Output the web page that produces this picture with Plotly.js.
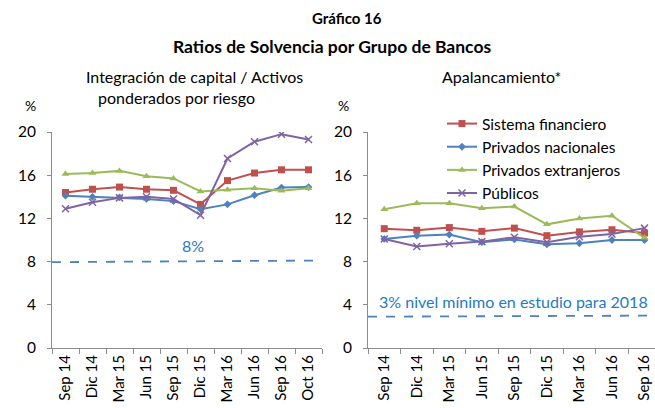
<!DOCTYPE html>
<html>
<head>
<meta charset="utf-8">
<script src="https://cdn.plot.ly/plotly-3.0.1.min.js"></script>
<style>html,body{margin:0;padding:0;background:#fff;}#chart{width:655px;height:408px;}</style>
</head>
<body>
<div id="chart"></div>
<script>
// Categories
const catsLeft = ["Sep 14","Dic 14","Mar 15","Jun 15","Sep 15","Dic 15","Mar 16","Jun 16","Sep 16","Oct 16"];
const catsRight = ["Sep 14","Dic 14","Mar 15","Jun 15","Sep 15","Dic 15","Mar 16","Jun 16","Sep 16"];

// Left panel: Integración de capital / Activos ponderados por riesgo (%)
const capSistema    = [14.4, 14.7, 14.9, 14.7, 14.6, 13.3, 15.5, 16.2, 16.5, 16.5];
const capNacionales = [14.1, 14.0, 13.95, 13.8, 13.6, 12.85, 13.3, 14.15, 14.85, 14.9];
const capExtranj    = [16.1, 16.2, 16.4, 15.9, 15.7, 14.5, 14.65, 14.8, 14.55, 14.8];
const capPublicos   = [12.9, 13.5, 13.9, 14.0, 13.8, 12.3, 17.55, 19.1, 19.8, 19.3];

// Right panel: Apalancamiento (%)
const apSistema    = [11.05, 10.9, 11.15, 10.8, 11.1, 10.4, 10.75, 10.95, 10.65];
const apNacionales = [10.1, 10.4, 10.5, 9.8, 10.05, 9.6, 9.7, 10.0, 10.0];
const apExtranj    = [12.85, 13.4, 13.4, 12.95, 13.1, 11.45, 12.0, 12.25, 10.2];
const apPublicos   = [10.1, 9.4, 9.65, 9.85, 10.25, 9.8, 10.3, 10.55, 11.1];

// Reference levels (start, end)
const refCapital = [7.95, 8.1];
const refLeverage = [2.9, 3.0];

const yTicks = [0, 4, 8, 12, 16, 20];

const FONT = "Lato, 'Open Sans', sans-serif";
const cRed = "#C0504D", cBlue = "#4F81BD", cGreen = "#9BBB59", cPurple = "#8064A2";
const cText = "#1F7BC4";

function series(x, y, name, color, symbol, size, xa, ya, showleg) {
  const mk = {symbol: symbol, size: size, color: color};
  if (symbol.indexOf("x-thin") === 0) mk.line = {color: color, width: 1.5};
  return {x: x, y: y, name: name, type: "scatter", mode: "lines+markers",
    line: {color: color, width: 2}, marker: mk, xaxis: xa, yaxis: ya,
    showlegend: showleg, legendgroup: name};
}

const data = [
  series(catsLeft, capSistema, "Sistema financiero", cRed, "square", 7, "x", "y", false),
  series(catsLeft, capNacionales, "Privados nacionales", cBlue, "diamond", 6, "x", "y", false),
  series(catsLeft, capExtranj, "Privados extranjeros", cGreen, "triangle-up", 7, "x", "y", false),
  series(catsLeft, capPublicos, "Públicos", cPurple, "x-thin", 7, "x", "y", false),
  series(catsRight, apSistema, "Sistema financiero", cRed, "square", 7, "x2", "y2", true),
  series(catsRight, apNacionales, "Privados nacionales", cBlue, "diamond", 6, "x2", "y2", true),
  series(catsRight, apExtranj, "Privados extranjeros", cGreen, "triangle-up", 7, "x2", "y2", true),
  series(catsRight, apPublicos, "Públicos", cPurple, "x-thin", 7, "x2", "y2", true)
];

const W = 655, H = 408, T = 132, B = 60;
const ph = H - T - B;
const py = p => (H - B - p) / ph;
const px = p => p / W;

function xax(domain, range, anchor) {
  return {domain: domain, range: range, anchor: anchor, type: "category",
    showline: true, linecolor: "#8c8c8c", linewidth: 1, showgrid: false, zeroline: false,
    ticks: "outside", tickson: "boundaries", ticklen: 5, tickcolor: "#8c8c8c",
    tickangle: -90, tickfont: {family: FONT, size: 15, color: "#000"}, fixedrange: true};
}
function yax(domain, anchor) {
  return {domain: domain, range: [0, 20], anchor: anchor, tickvals: yTicks,
    showline: true, linecolor: "#8c8c8c", linewidth: 1, showgrid: false, zeroline: false,
    ticks: "outside", ticklen: 4, tickcolor: "#8c8c8c", ticklabelstandoff: 8,
    tickfont: {family: FONT, size: 15.5, color: "#000"}, fixedrange: true};
}

const layout = {
  width: W, height: H,
  margin: {l: 0, r: 0, t: T, b: B, pad: 0},
  paper_bgcolor: "#fff", plot_bgcolor: "#fff",
  font: {family: FONT, color: "#000"},
  xaxis: xax([52 / W, 322 / W], [-0.5, catsLeft.length - 0.5], "y"),
  yaxis: yax([0, 1], "x"),
  xaxis2: xax([368 / W, 1], [-0.5, catsRight.length - 0.5 - 5.75 / 32.5], "y2"),
  yaxis2: yax([0, 1], "x2"),
  showlegend: true,
  legend: {x: px(442), y: py(107), xanchor: "left", yanchor: "top",
    font: {family: FONT, size: 15.5, color: "#000"}, bgcolor: "rgba(0,0,0,0)",
    tracegroupgap: 0, itemwidth: 30},
  shapes: [
    {type: "line", xref: "x domain", yref: "y", x0: 0, x1: 1, y0: refCapital[0], y1: refCapital[1],
      line: {color: cBlue, width: 1.8, dash: "dash"}},
    {type: "line", xref: "x2 domain", yref: "y2", x0: 0, x1: 1, y0: refLeverage[0], y1: refLeverage[1],
      line: {color: cBlue, width: 1.8, dash: "dash"}}
  ],
  annotations: [
    {text: "<b>Gráfico 16</b>", x: px(347), y: py(18), xref: "paper", yref: "paper", showarrow: false,
      font: {family: FONT, size: 15}, xanchor: "center", yanchor: "middle"},
    {text: "<b>Ratios de Solvencia por Grupo de Bancos</b>", x: px(332), y: py(47), xref: "paper", yref: "paper", showarrow: false,
      font: {family: FONT, size: 17.5}, xanchor: "center", yanchor: "middle"},
    {text: "Integración de capital / Activos", x: px(194), y: py(76), xref: "paper", yref: "paper", showarrow: false,
      font: {family: FONT, size: 16}, xanchor: "center", yanchor: "middle"},
    {text: "ponderados por riesgo", x: px(177), y: py(97), xref: "paper", yref: "paper", showarrow: false,
      font: {family: FONT, size: 16}, xanchor: "center", yanchor: "middle"},
    {text: "Apalancamiento*", x: px(501), y: py(76), xref: "paper", yref: "paper", showarrow: false,
      font: {family: FONT, size: 16}, xanchor: "center", yanchor: "middle"},
    {text: "%", x: px(30), y: py(105), xref: "paper", yref: "paper", showarrow: false,
      font: {family: FONT, size: 14}, xanchor: "center", yanchor: "middle"},
    {text: "%", x: px(343), y: py(105), xref: "paper", yref: "paper", showarrow: false,
      font: {family: FONT, size: 14}, xanchor: "center", yanchor: "middle"},
    {text: "8%", x: px(193), y: py(245), xref: "paper", yref: "paper", showarrow: false,
      font: {family: FONT, size: 16, color: cText}, xanchor: "center", yanchor: "middle"},
    {text: "3% nivel mínimo en estudio para 2018", x: px(377), y: py(301), xref: "paper", yref: "paper", showarrow: false,
      font: {family: FONT, size: 16, color: cText}, xanchor: "left", yanchor: "middle"}
  ]
};

Plotly.newPlot("chart", data, layout, {displayModeBar: false, staticPlot: true});
</script>
</body>
</html>
